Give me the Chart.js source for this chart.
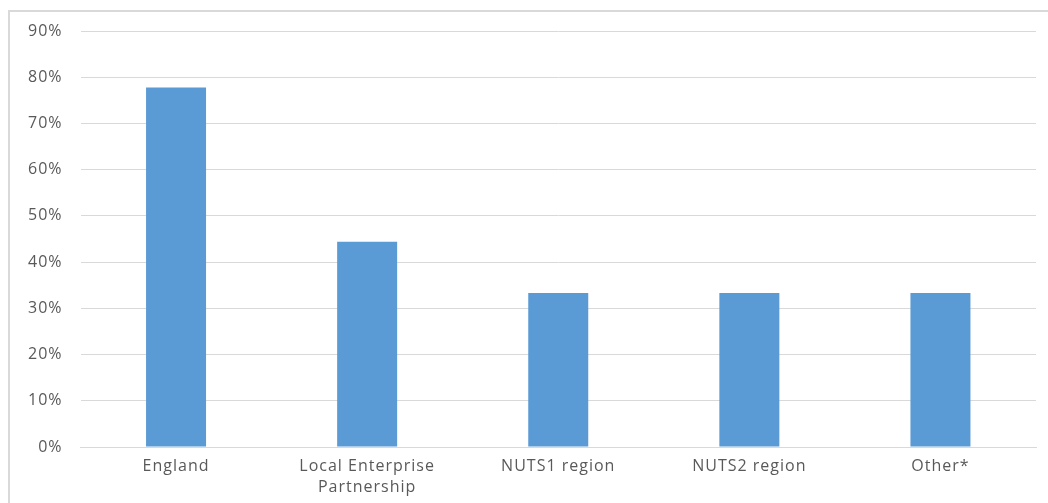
<!DOCTYPE html>
<html>
<head>
<meta charset="utf-8">
<script src="https://cdn.jsdelivr.net/npm/chart.js@4"></script>
<style>
  html, body { margin: 0; padding: 0; background: #fff; overflow: hidden; }
  #wrap { position: relative; width: 1048px; height: 503px; }
  #frame { position: absolute; left: 8px; top: 10px; width: 1100px; height: 600px;
           border: 2px solid #d9d9d9; box-sizing: border-box; }
  canvas { position: absolute; left: 0; top: 0; }
</style>
</head>
<body>
<div id="wrap">
  <div id="frame"></div>
  <canvas id="barChart" width="1048" height="503"></canvas>
</div>
<script>
// categories along the x axis
const categories = ['England', ['Local Enterprise', 'Partnership'], 'NUTS1 region', 'NUTS2 region', 'Other*'];
// share of respondents, in percent
const shares = [77.8, 44.4, 33.3, 33.3, 33.3];
// y axis range
const yMin = 0;
const yMax = 90;
const yStep = 10;

// the original text is a little wider, so space the letters out
const spacing = {
  id: 'spacing',
  beforeLayout: (chart) => { chart.ctx.letterSpacing = '1px'; },
  beforeDraw: (chart) => { chart.ctx.letterSpacing = '1px'; }
};

const tickFont = { family: 'Open Sans', size: 16, lineHeight: 1.3 };

const ctx = document.getElementById('barChart').getContext('2d');
const barChart = new Chart(ctx, {
  type: 'bar',
  data: {
    labels: categories,
    datasets: [{
      data: shares,
      backgroundColor: '#5b9bd5',
      borderWidth: 0,
      barPercentage: 1,
      categoryPercentage: 0.314
    }]
  },
  options: {
    responsive: false,
    animation: false,
    layout: { padding: { top: 31, right: 12, left: 0, bottom: 0 } },
    plugins: { legend: { display: false }, tooltip: { enabled: false } },
    scales: {
      x: {
        grid: { display: false, drawTicks: false },
        border: { color: '#d9d9d9', width: 1 },
        ticks: { color: '#595959', font: tickFont, padding: 9, maxRotation: 0, autoSkip: false },
        afterFit: (scale) => { scale.height = 56; }
      },
      y: {
        min: yMin,
        max: yMax,
        grid: { color: '#d9d9d9', lineWidth: 1, drawTicks: false },
        border: { display: false },
        ticks: {
          stepSize: yStep,
          color: '#595959',
          font: tickFont,
          padding: 18,
          callback: (v) => v + '%'
        },
        afterFit: (scale) => { scale.width = 80.5; }
      }
    }
  },
  plugins: [spacing]
});
</script>
</body>
</html>
